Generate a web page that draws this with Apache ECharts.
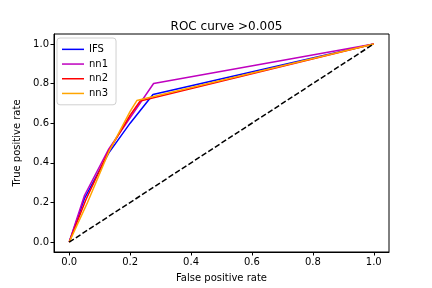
<!DOCTYPE html>
<html><head><meta charset="utf-8">
<script src="https://cdn.jsdelivr.net/npm/echarts@6/dist/echarts.min.js"></script>
<style>html,body{margin:0;padding:0;background:#fff}#c{width:432px;height:288px}</style>
</head><body><div id="c"></div>
<script>
const seriesNames = ['IFS', 'nn1', 'nn2', 'nn3'];
const fprIFS = [0, 0.05, 0.13, 0.20, 0.275, 1];
const tprIFS = [0, 0.22, 0.45, 0.60, 0.745, 1];
const fprNN1 = [0, 0.05, 0.13, 0.277, 1];
const tprNN1 = [0, 0.235, 0.47, 0.80, 1];
const fprNN2 = [0, 0.055, 0.13, 0.20, 0.233, 1];
const tprNN2 = [0, 0.215, 0.46, 0.64, 0.712, 1];
const fprNN3 = [0, 0.06, 0.13, 0.20, 0.222, 1];
const tprNN3 = [0, 0.20, 0.455, 0.66, 0.714, 1];
const diagX = [0, 1];
const diagY = [0, 1];
const tickValues = [0, 0.2, 0.4, 0.6, 0.8, 1.0];
const colors = ['#0000ff', '#bf00bf', '#ff0000', '#ffa500'];

const pairs = (xs, ys) => xs.map((x, i) => [x, ys[i]]);
const curves = [pairs(fprIFS, tprIFS), pairs(fprNN1, tprNN1), pairs(fprNN2, tprNN2), pairs(fprNN3, tprNN3)];
const font = 'DejaVu Sans';

const series = curves.map((d, i) => ({
  name: seriesNames[i], type: 'line', data: d, showSymbol: false, symbol: 'none',
  lineStyle: {color: colors[i], width: 1.5}, itemStyle: {color: colors[i]}, animation: false
}));
series.push({
  name: 'diag', type: 'line', data: pairs(diagX, diagY), showSymbol: false, symbol: 'none',
  lineStyle: {color: '#000', width: 1.5, type: [5.5, 2.4]}, animation: false
});

const axisCommon = {
  type: 'value', min: -0.05, max: 1.05,
  axisLine: {show: true, onZero: false, lineStyle: {color: '#000', width: 1}},
  axisTick: {show: true, length: 3.5, lineStyle: {color: '#000'}, customValues: tickValues},
  axisLabel: {color: '#000', fontSize: 10, fontFamily: font, margin: 5, customValues: tickValues,
    formatter: v => v.toFixed(1)},
  splitLine: {show: false},
  nameLocation: 'middle',
  nameTextStyle: {color: '#000', fontSize: 10, fontFamily: font}
};

const chart = echarts.init(document.getElementById('c'), null, {renderer: 'canvas'});
chart.setOption({
  animation: false,
  backgroundColor: '#fff',
  title: {text: 'ROC curve >0.005', left: 221.5, textAlign: 'center', top: 16,
    textStyle: {color: '#000', fontSize: 12, fontWeight: 'normal', fontFamily: font}},
  grid: {left: 54, right: 43, top: 34, bottom: 36, show: true, borderColor: '#000', borderWidth: 1},
  legend: {
    data: seriesNames, orient: 'vertical', left: 57, top: 38, icon: 'rect',
    itemWidth: 22, itemHeight: 1.5, itemGap: 0,
    padding: [4, 8, 4, 5], borderColor: '#d0d0d0', borderWidth: 1, borderRadius: 3,
    backgroundColor: 'rgba(255,255,255,0.8)',
    textStyle: {color: '#000', fontSize: 10, fontFamily: font, lineHeight: 14.7, height: 14.7}
  },
  xAxis: Object.assign({}, axisCommon, {name: 'False positive rate', nameGap: 21}),
  yAxis: Object.assign({}, axisCommon, {name: 'True positive rate', nameGap: 29}),
  series: series
});
</script></body></html>
